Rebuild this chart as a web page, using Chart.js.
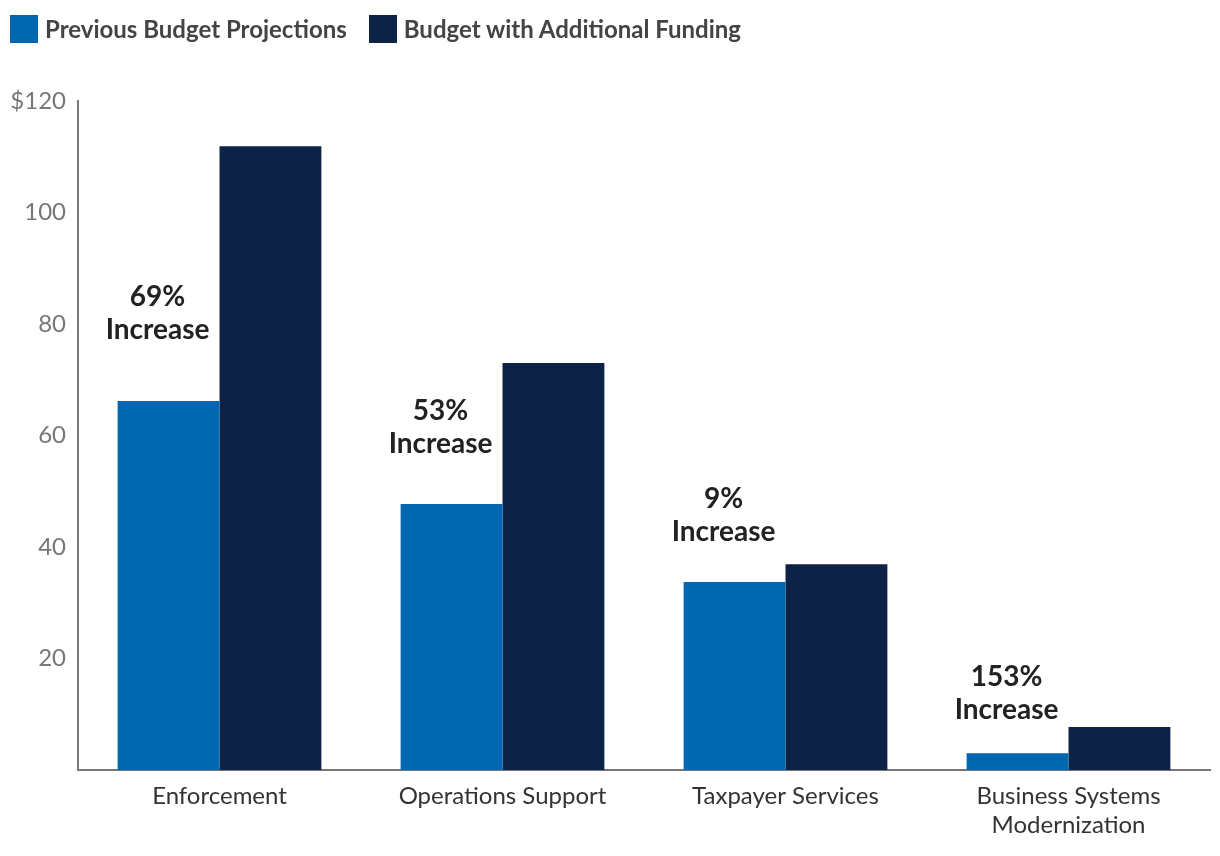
<!DOCTYPE html>
<html>
<head>
<meta charset="utf-8">
<script src="https://cdn.jsdelivr.net/npm/chart.js@4.4.1/dist/chart.umd.min.js"></script>
<style>
    html, body { margin: 0; padding: 0; background: #fff; }
    #wrap { position: relative; width: 1220px; height: 856px; }
    #legend { position: absolute; left: 10px; top: 14px; display: flex; font-family: Lato, sans-serif; font-weight: bold; font-size: 24px; color: #444; }
    .item { display: flex; align-items: center; margin-right: 22px; }
    .box { width: 28px; height: 28px; margin-right: 7px; }
</style>
</head>
<body>
<div id="wrap">
    <div id="legend"></div>
    <canvas id="budgetChart" width="1220" height="856"></canvas>
</div>
<script>
// chart values (billions of dollars)
const categories = ['Enforcement', 'Operations Support', 'Taxpayer Services', ['Business Systems', 'Modernization']];
const previousBudget = [66.2, 47.7, 33.7, 3.0];
const additionalFunding = [111.9, 73.0, 36.9, 7.7];
const increaseLabels = ['69%', '53%', '9%', '153%'];
const yTicks = [0, 20, 40, 60, 80, 100, 120];

const seriesNames = ['Previous Budget Projections', 'Budget with Additional Funding'];
const seriesColors = ['#0067B0', '#0E2245'];

// simple html legend so the box/text spacing matches
const legendEl = document.getElementById('legend');
seriesNames.forEach((name, i) => {
    const item = document.createElement('div');
    item.className = 'item';
    item.innerHTML = '<span class="box" style="background:' + seriesColors[i] + '"></span>' + name;
    legendEl.appendChild(item);
});

// draws the "xx% Increase" text above the first bar of each group
const increasePlugin = {
    id: 'increaseLabels',
    afterDatasetsDraw(chart, args, opts) {
        const ctx = chart.ctx;
        const meta = chart.getDatasetMeta(0);
        ctx.save();
        ctx.font = 'bold 28px Lato, sans-serif';
        ctx.fillStyle = '#222';
        ctx.textAlign = 'center';
        ctx.textBaseline = 'middle';
        meta.data.forEach((bar, i) => {
            const x = bar.x + opts.shiftX;
            const y = bar.y - opts.gaps[i];
            ctx.fillText(increaseLabels[i], x, y - 33);
            ctx.fillText('Increase', x, y);
        });
        ctx.restore();
    }
};

const ctx = document.getElementById('budgetChart').getContext('2d');
new Chart(ctx, {
    type: 'bar',
    data: {
        labels: categories,
        datasets: [{
            label: seriesNames[0],
            data: previousBudget,
            backgroundColor: seriesColors[0]
        }, {
            label: seriesNames[1],
            data: additionalFunding,
            backgroundColor: seriesColors[1]
        }]
    },
    options: {
        responsive: false,
        animation: false,
        layout: {
            padding: { top: 101, right: 10, left: 0, bottom: 0 }
        },
        datasets: {
            bar: { categoryPercentage: 0.72, barPercentage: 1.0 }
        },
        plugins: {
            legend: { display: false },
            tooltip: { enabled: false },
            increaseLabels: { shiftX: -11, gaps: [71, 60, 50, 43] }
        },
        scales: {
            x: {
                grid: { display: false, drawTicks: false },
                border: { color: '#777', width: 2 },
                ticks: {
                    color: '#333',
                    font: { family: 'Lato', size: 24 },
                    padding: 12,
                    maxRotation: 0
                },
                afterFit: (scale) => { scale.height = 86; }
            },
            y: {
                min: 0,
                max: 120,
                afterBuildTicks: (scale) => { scale.ticks = yTicks.map(v => ({ value: v })); },
                grid: { display: false, drawTicks: false },
                border: { color: '#777', width: 2 },
                ticks: {
                    color: '#777',
                    font: { family: 'Lato', size: 24 },
                    padding: 12,
                    callback: (v) => v === 0 ? '' : (v === 120 ? '$' + v : v)
                },
                afterFit: (scale) => { scale.width = 78; }
            }
        }
    },
    plugins: [increasePlugin]
});
</script>
</body>
</html>
